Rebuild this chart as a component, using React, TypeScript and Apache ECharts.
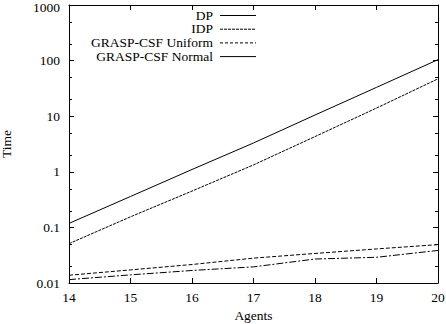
import React, { useEffect, useRef } from "react";
import * as echarts from "echarts";

const agents = [14, 15, 16, 17, 18, 19, 20];
const dpTimes = [0.118, 0.36, 1.1, 3.3, 10.5, 33, 104];
const idpTimes = [0.051, 0.155, 0.45, 1.33, 4.3, 14, 47];
const uniformTimes = [0.0138, 0.0172, 0.0215, 0.028, 0.034, 0.041, 0.049];
const normalTimes = [0.0115, 0.014, 0.0168, 0.0195, 0.027, 0.029, 0.0385];
const yTickLabels = ["0.01", "0.1", "1", "10", "100", "1000"];
const minorTickValues = [0.02, 0.05, 0.2, 0.5, 2, 5, 20, 50, 200, 500];
const legendNames = ["DP", "IDP", "GRASP-CSF Uniform", "GRASP-CSF Normal"];

const FONT = "'Liberation Serif', 'Times New Roman', serif";

export default function App() {
  const ref = useRef<HTMLDivElement>(null);
  useEffect(() => {
    const chart = echarts.init(ref.current!, null, { renderer: "svg" });
    const pairs = (ys: number[]) => agents.map((a, i) => [a, ys[i]]);
    const axisCommon = {
      axisLine: { lineStyle: { color: "#000", width: 1 } },
      axisTick: { inside: true, length: 5, lineStyle: { color: "#000" } },
      splitLine: { show: false },
    };
    const legendGraphics: any[] = [];
    const dashes: any[] = [null, [3, 1], [3, 2], null];
    legendNames.forEach((n, i) => {
      const y = 15 + i * 13.7;
      legendGraphics.push({
        type: "text",
        x: 213,
        y,
        style: {
          text: n,
          align: "right",
          verticalAlign: "middle",
          font: `13.5px ${FONT}`,
          fill: "#000",
        },
      });
      legendGraphics.push({
        type: "line",
        shape: { x1: 220, y1: y + 0.5, x2: 256, y2: y + 0.5 },
        style: { stroke: "#000", lineWidth: 1, lineDash: dashes[i] || undefined },
      });
    });
    chart.setOption({
      animation: false,
      backgroundColor: "#fff",
      textStyle: { fontFamily: FONT },
      grid: {
        left: 69,
        right: 8,
        top: 5,
        bottom: 41,
        containLabel: false,
        outerBoundsMode: "none",
      },
      xAxis: [
        {
          type: "value",
          min: 14,
          max: 20,
          interval: 1,
          name: "Agents",
          nameLocation: "middle",
          nameGap: 24,
          nameTextStyle: { color: "#000", fontSize: 13.5, fontFamily: FONT },
          axisLabel: { color: "#000", fontSize: 13.5, fontFamily: FONT, margin: 7 },
          ...axisCommon,
        },
        {
          type: "value",
          position: "top",
          min: 14,
          max: 20,
          interval: 1,
          axisLabel: { show: false },
          ...axisCommon,
        },
      ],
      yAxis: [
        {
          type: "log",
          logBase: 10,
          min: 0.01,
          max: 1000,
          name: "Time",
          nameLocation: "middle",
          nameRotate: 90,
          nameGap: 56,
          nameTextStyle: { color: "#000", fontSize: 13.5, fontFamily: FONT },
          axisLabel: {
            color: "#000",
            fontSize: 13.5,
            fontFamily: FONT,
            margin: 9,
            formatter: (v: number) => {
              const idx = Math.round(Math.log10(v)) + 2;
              const s = yTickLabels[idx] ?? "";
              return idx === yTickLabels.length - 1 ? `{top|${s}}` : s;
            },
            rich: {
              top: {
                fontSize: 13.5,
                fontFamily: FONT,
                color: "#000",
                lineHeight: 12,
                padding: [4, 0, 0, 0],
              },
            },
          },
          ...axisCommon,
        },
        {
          type: "log",
          logBase: 10,
          position: "right",
          min: 0.01,
          max: 1000,
          axisLabel: { show: false },
          ...axisCommon,
        },
      ],
      graphic: legendGraphics,
      series: [
        {
          name: "DP",
          type: "line",
          data: pairs(dpTimes),
          showSymbol: false,
          lineStyle: { color: "#000", width: 1, type: "solid" },
        },
        {
          name: "IDP",
          type: "line",
          data: pairs(idpTimes),
          showSymbol: false,
          lineStyle: { color: "#000", width: 1, type: [3, 1] },
        },
        {
          name: "GRASP-CSF Uniform",
          type: "line",
          data: pairs(uniformTimes),
          showSymbol: false,
          lineStyle: { color: "#000", width: 1, type: [4, 2] },
        },
        {
          name: "GRASP-CSF Normal",
          type: "line",
          data: pairs(normalTimes),
          showSymbol: false,
          lineStyle: { color: "#000", width: 1, type: [7, 2, 2, 2] },
        },
        {
          name: "minorTicks",
          type: "custom",
          silent: true,
          clip: false,
          data: minorTickValues.map((v) => [14, v]),
          renderItem: (params: any, api: any) => {
            const v = api.value(1);
            const l = api.coord([14, v]);
            const r = api.coord([20, v]);
            const y = Math.round(l[1]) + 0.5;
            return {
              type: "group",
              children: [
                {
                  type: "line",
                  shape: { x1: l[0], y1: y, x2: l[0] + 3, y2: y },
                  style: { stroke: "#000", lineWidth: 1 },
                },
                {
                  type: "line",
                  shape: { x1: r[0] - 3, y1: y, x2: r[0], y2: y },
                  style: { stroke: "#000", lineWidth: 1 },
                },
              ],
            };
          },
        },
      ],
    });
    return () => chart.dispose();
  }, []);
  return (
    <div
      ref={ref}
      style={{ position: "absolute", left: 0, top: 0, width: 446, height: 324, background: "#fff" }}
    />
  );
}
